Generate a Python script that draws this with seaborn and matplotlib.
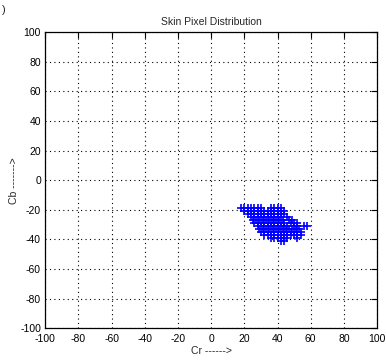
import matplotlib
matplotlib.use("Agg")
import matplotlib.pyplot as plt
import seaborn as sns
import pandas as pd

# skin pixel samples, grouped by Cb row
cb_rows = [-19, -21, -23, -25, -27, -29, -31, -33, -35, -37, -39, -41]
cr_rows = [
    [18, 20, 22, 24, 26, 28, 30, 36, 38, 40, 42],
    [20, 22, 24, 26, 28, 30, 32, 34, 36, 38, 40, 42, 44],
    [22, 24, 26, 28, 30, 32, 34, 36, 38, 40, 42, 44],
    [24, 26, 28, 30, 32, 34, 36, 38, 40, 42, 46],
    [25, 27, 29, 31, 33, 35, 37, 39, 41, 43, 47, 49],
    [26, 28, 30, 32, 34, 36, 38, 40, 42, 44, 48, 50, 52],
    [28, 30, 32, 34, 36, 38, 40, 42, 44, 46, 50, 52, 56, 58],
    [29, 31, 33, 35, 37, 39, 41, 43, 45, 47, 49, 51, 53],
    [30, 32, 34, 36, 38, 40, 42, 44, 46, 48, 50, 52, 54],
    [32, 34, 36, 38, 40, 42, 44, 46, 48, 50, 52, 54],
    [36, 38, 40, 42, 44, 46, 52],
    [42, 44],
]
ticks = [-100, -80, -60, -40, -20, 0, 20, 40, 60, 80, 100]

df = pd.DataFrame({
    "Cr": [c for row in cr_rows for c in row],
    "Cb": [b for b, row in zip(cb_rows, cr_rows) for _ in row],
})

sns.set_style("white")
plt.rcParams["font.family"] = ["Liberation Sans Narrow", "Liberation Sans", "DejaVu Sans"]
plt.rcParams["axes.unicode_minus"] = False

fig = plt.figure(figsize=(3.86, 3.61), dpi=100)
ax = fig.add_axes([0.117, 0.091, 0.86, 0.82])

sns.scatterplot(data=df, x="Cr", y="Cb", marker="+", color="blue",
                s=30, linewidth=1.2, ax=ax, zorder=3)

ax.set_xlim(-100, 100)
ax.set_ylim(-100, 100)
ax.set_xticks(ticks)
ax.set_yticks(ticks)
ax.grid(True, color="black", linestyle=(0, (1, 3)), linewidth=0.8)
ax.tick_params(direction="in", length=4, width=0.8, labelsize=7.5,
               top=True, right=True, colors="black")
ax.tick_params(axis="x", pad=4)
ax.tick_params(axis="y", pad=3)
for sp in ax.spines.values():
    sp.set_visible(True)
    sp.set_color("black")
    sp.set_linewidth(0.9)

ax.set_title("Skin Pixel Distribution", fontsize=7.5, pad=5)
ax.set_xlabel("Cr ------>", fontsize=7.5, labelpad=2)
ax.set_ylabel("Cb ------->", fontsize=7.5, labelpad=1)
fig.text(0.005, 0.985, ")", fontsize=8, va="top")

fig.savefig("out.png", dpi=100)
